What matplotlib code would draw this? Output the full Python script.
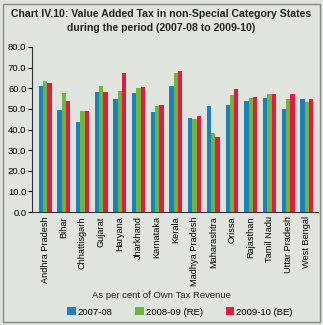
import matplotlib.pyplot as plt
from matplotlib.patches import Rectangle
import numpy as np

states = ['Andhra Pradesh', 'Bihar', 'Chhattisgarh', 'Gujarat', 'Haryana',
          'Jharkhand', 'Karnataka', 'Kerala', 'Madhya Pradesh', 'Maharashtra',
          'Orissa', 'Rajasthan', 'Tamil Nadu', 'Uttar Pradesh', 'West Bengal']
vat_0708 = [61.1, 49.3, 43.6, 58.3, 54.8, 57.7, 48.6, 61.1, 45.7, 51.3,
            51.9, 53.7, 55.3, 50.0, 55.0]
vat_0809 = [63.4, 57.7, 48.8, 61.1, 58.6, 60.1, 51.6, 67.3, 44.9, 38.5,
            56.9, 55.3, 57.2, 54.7, 53.2]
vat_0910 = [62.6, 53.7, 49.0, 58.2, 67.3, 60.4, 51.9, 68.6, 46.6, 36.2,
            59.5, 55.6, 57.0, 57.2, 54.7]
series_names = ['2007-08', '2008-09 (RE)', '2009-10 (BE)']
yticks = [0, 10, 20, 30, 40, 50, 60, 70, 80]

plt.rcParams['font.family'] = ['Liberation Sans', 'DejaVu Sans']
bg = '#dfe5dc'

fig = plt.figure(figsize=(3.23, 3.25), dpi=100, facecolor=bg)
ax = fig.add_axes([32/323, 1 - 212/325, (318 - 32)/323, (212 - 47)/325])
ax.set_facecolor(bg)

x = np.arange(len(states))
w = 0.23
colors = ['#1a80c2', '#6db540', '#e8193f']
for i, (vals, c, name) in enumerate(zip([vat_0708, vat_0809, vat_0910], colors, series_names)):
    ax.bar(x + (i - 1) * w, vals, width=w, color=c, label=name)

ax.set_xlim(-0.7, 14.6)
ax.set_ylim(0, 80)
ax.set_yticks(yticks)
ax.set_yticklabels(['%.1f' % v for v in yticks], fontsize=6.8)
ax.set_xticks(x)
ax.set_xticklabels(states, rotation=90, fontsize=6.6)
ax.tick_params(axis='x', length=0, pad=3)
ax.tick_params(axis='y', length=3, width=0.8, pad=1)
for s in ['top', 'right']:
    ax.spines[s].set_visible(False)
for s in ['left', 'bottom']:
    ax.spines[s].set_color('#333333')
    ax.spines[s].set_linewidth(0.8)

fig.text(0.5, 1 - 14/325, 'Chart IV.10: Value Added Tax in non-Special Category States',
         ha='center', va='center', fontsize=7.6, fontweight='bold', color='#222222')
fig.text(0.5, 1 - 28/325, 'during the period (2007-08 to 2009-10)',
         ha='center', va='center', fontsize=7.6, fontweight='bold', color='#222222')
fig.text(0.5, 1 - 296/325, 'As per cent of Own Tax Revenue',
         ha='center', va='center', fontsize=6.8, color='#222222')

leg = fig.legend(loc='center', bbox_to_anchor=(0.557, 1 - 312/325), ncol=3,
                 frameon=False, fontsize=6.8, handlelength=0.9, handleheight=0.9,
                 handletextpad=0.2, columnspacing=2.4)

fig.patches.append(Rectangle((3/323, 3/325), 317/323, 318/325, transform=fig.transFigure,
                             fill=False, edgecolor='#888888', linewidth=1))

fig.savefig('out.png', dpi=100, facecolor=bg)
